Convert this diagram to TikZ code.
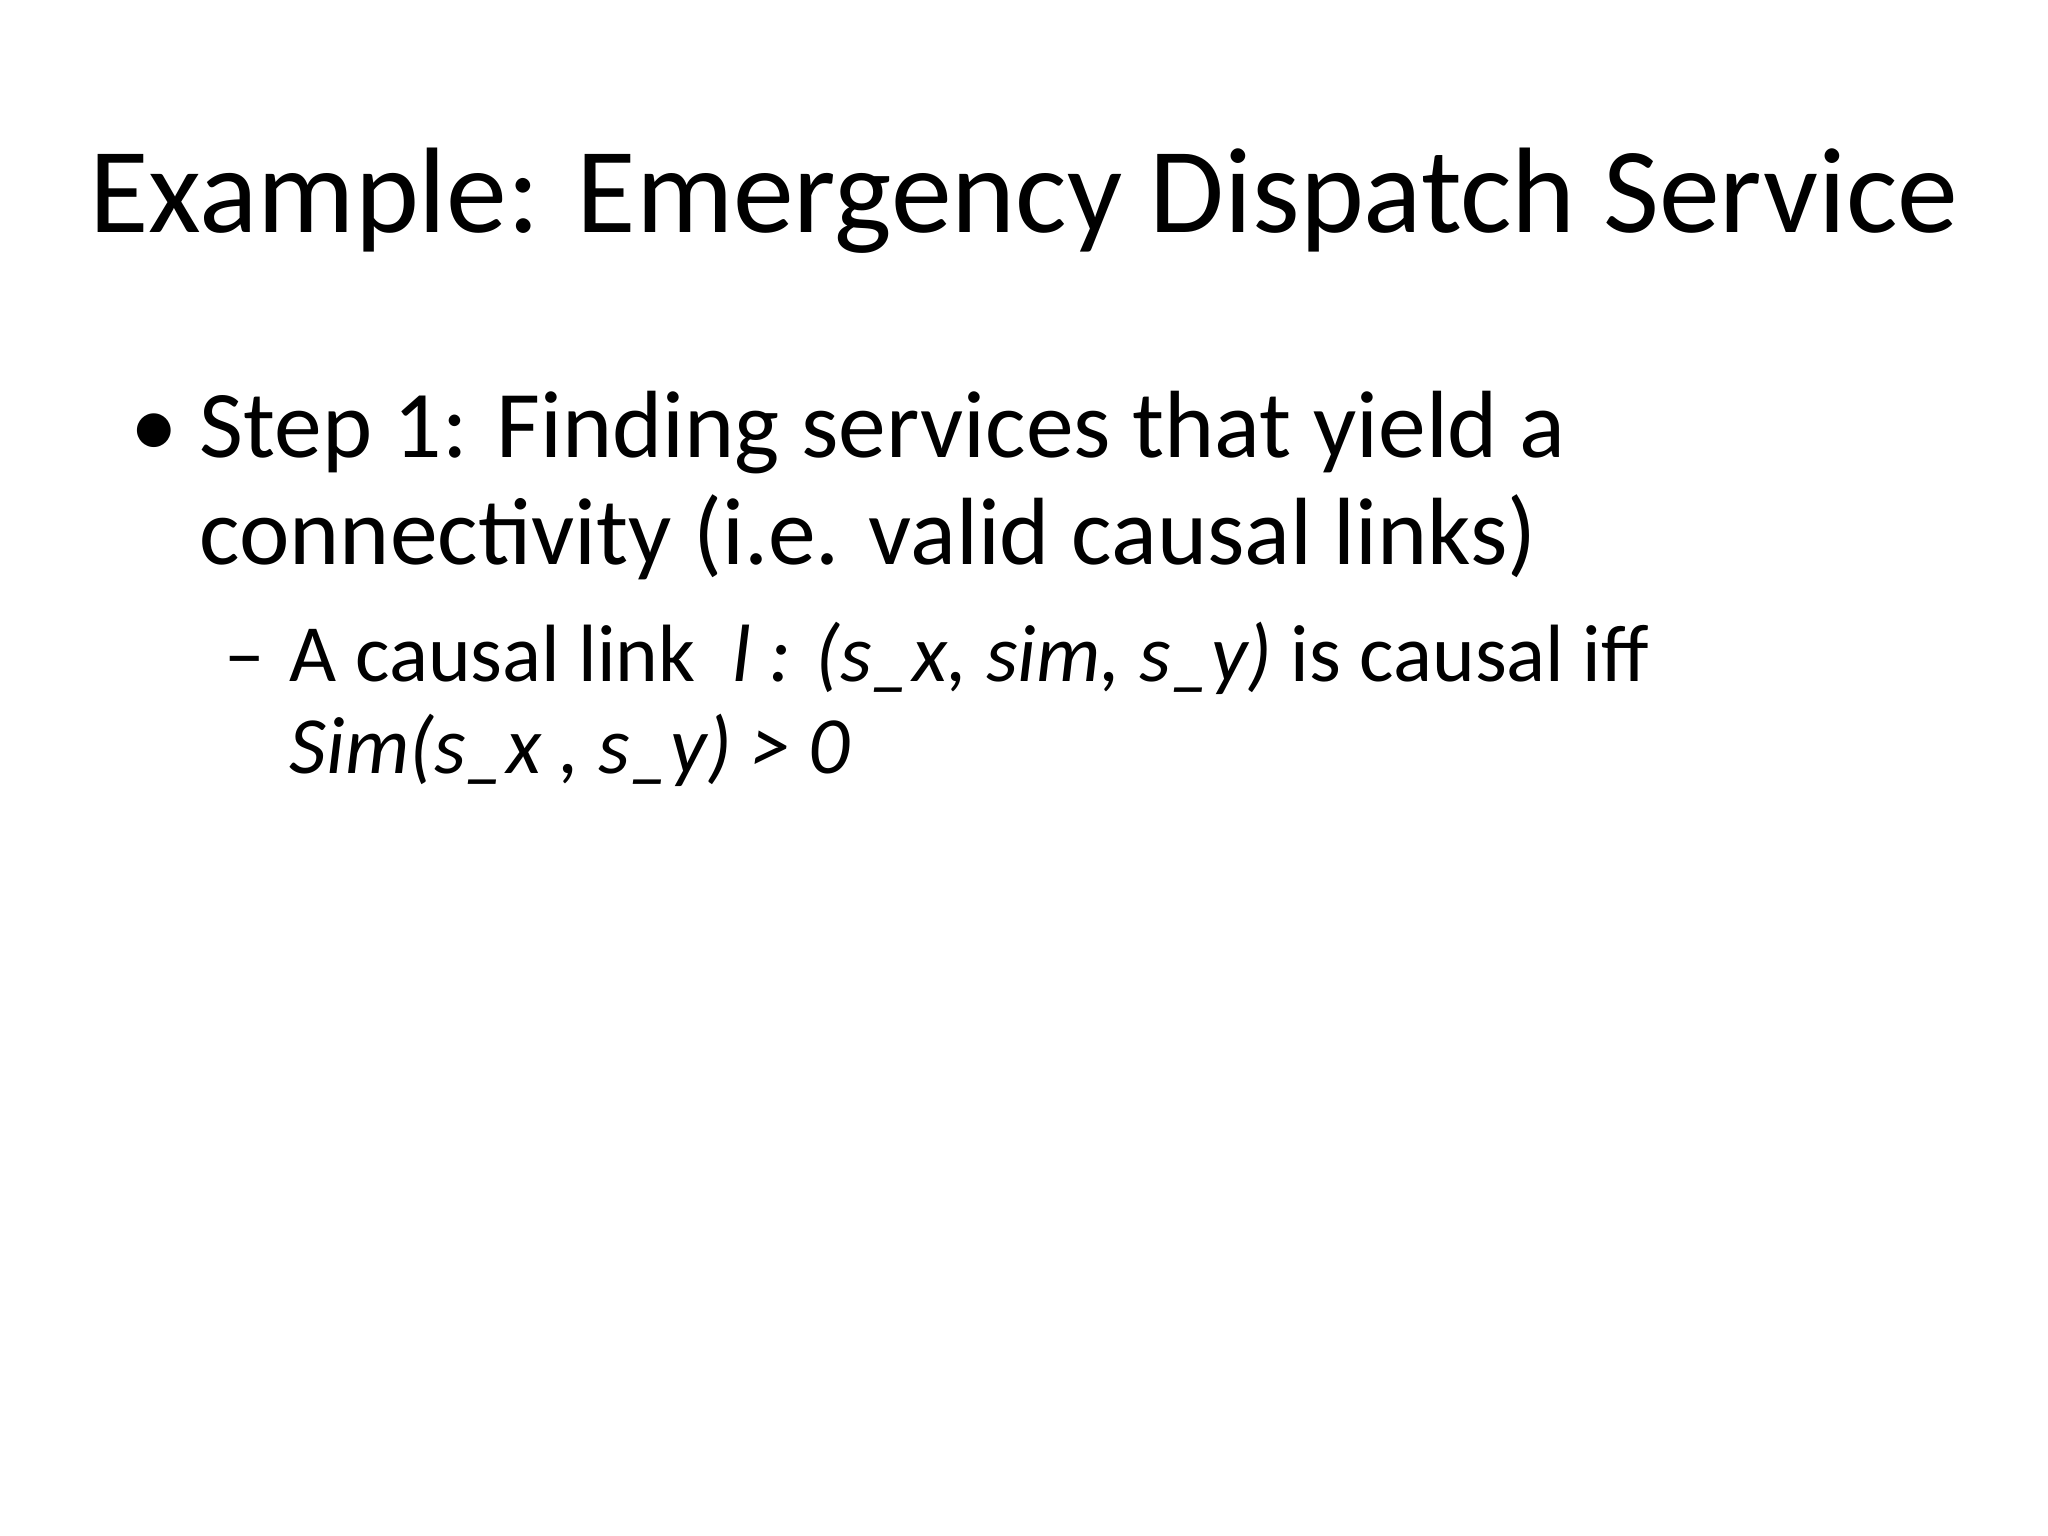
\documentclass[tikz,border=0pt]{standalone}
\usepackage{fontspec}
\setmainfont{Carlito}
\begin{document}
\begin{tikzpicture}[x=0.01cm,y=-0.01cm,
  txt/.style={anchor=base west,inner sep=0pt,outer sep=0pt}]
\useasboundingbox (0,0) rectangle (1568,1176);
\node[anchor=base,inner sep=0pt] (title) at (784,178) {\fontsize{26.5}{32}\selectfont Example: Emergency Dispatch Service};
\node[txt] (b1) at (100,350) {\fontsize{20.8}{25}\selectfont •};
\node[txt] (l1) at (153,350) {\fontsize{20.8}{25}\selectfont Step 1: Finding services that yield a};
\node[txt] (l2) at (153,432) {\fontsize{20.8}{25}\selectfont connectivity (i.e. valid causal links)};
\node[txt] (d1) at (172,522) {\fontsize{17.7}{21}\selectfont –};
\node[txt] (s1) at (222,522) {\fontsize{17.7}{21}\selectfont A causal link\ \ \textit{l : (s\_x, sim, s\_y)} is causal iff};
\node[txt] (s2) at (222,592) {\fontsize{17.7}{21}\selectfont \textit{Sim(s\_x , s\_y) > 0}};
\end{tikzpicture}
\end{document}
